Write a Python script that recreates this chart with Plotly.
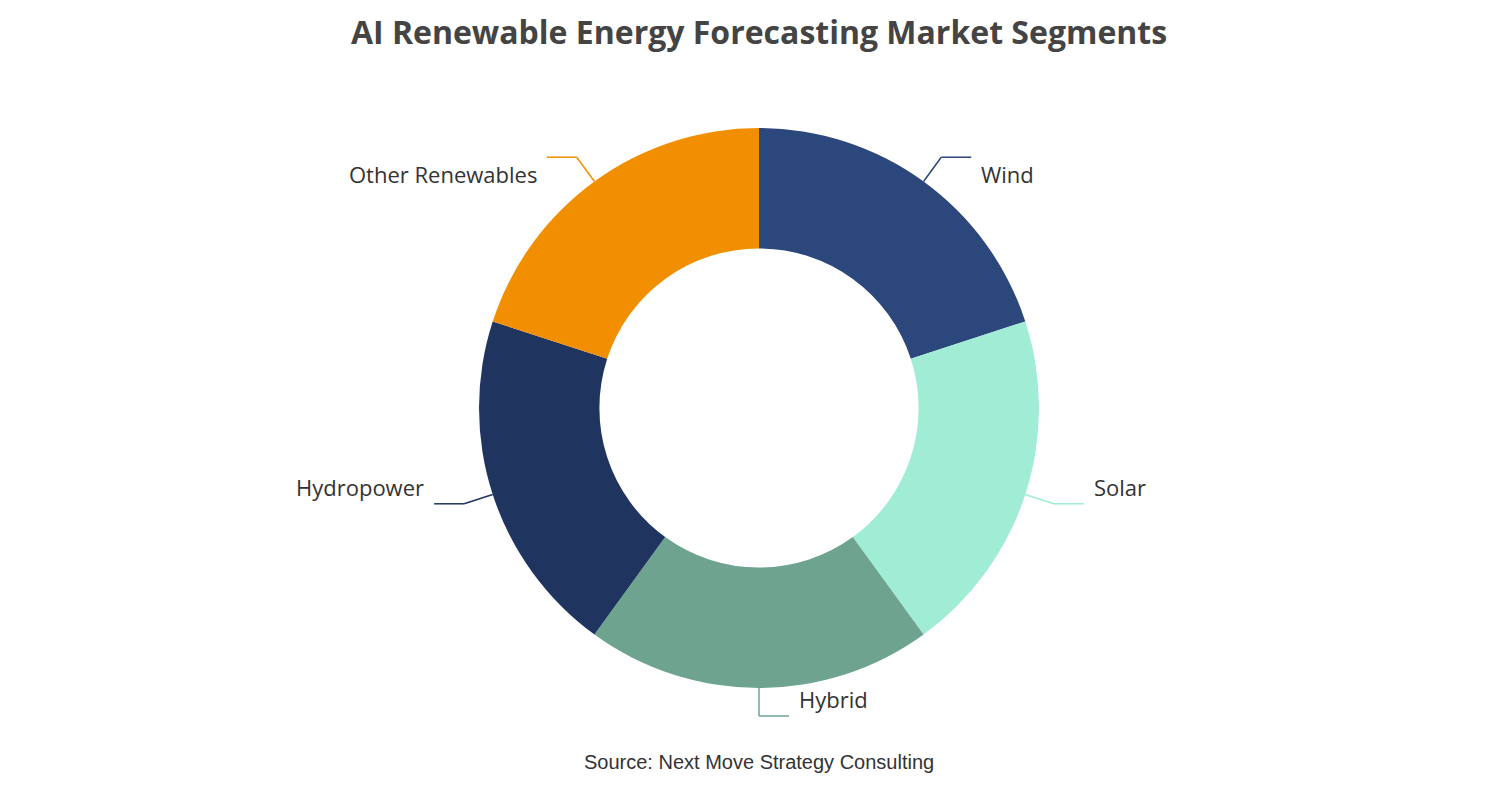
import math
import plotly.graph_objects as go

segments = ["Wind", "Solar", "Hybrid", "Hydropower", "Other Renewables"]
shares = [20, 20, 20, 20, 20]
colors = ["#2B477B", "#A0ECD4", "#6EA48F", "#1F3560", "#F28F00"]

W, H = 1502, 800
MT, MB = 120, 120
PH = H - MT - MB
CX, CY, R = W / 2, MT + PH / 2, PH / 2


def to_paper(x, y):
    return x / W, (H - MB - y) / PH


fig = go.Figure(go.Pie(
    labels=segments, values=shares, hole=0.57, sort=False,
    direction="clockwise", rotation=0, textinfo="none",
    marker=dict(colors=colors, line=dict(width=0)),
    showlegend=False, domain=dict(x=[0, 1], y=[0, 1]),
))

# leader lines + labels, placed from each slice's mid angle
total = sum(shares)
acc = 0
for name, v, c in zip(segments, shares, colors):
    mid = (acc + v / 2) / total * 2 * math.pi
    acc += v
    sx, sy = math.sin(mid), -math.cos(mid)
    x0, y0 = CX + R * sx, CY + R * sy
    x1, y1 = CX + (R + 30) * sx, CY + (R + 30) * sy
    side = 1 if sx >= 0 else -1
    if abs(sx) < 1e-6:
        y1 = CY + (R + 28) * sy
        x1 = x0
    x2 = x1 + side * 30
    for a, b in [((x0, y0), (x1, y1)), ((x1, y1), (x2, y1))]:
        pa, pb = to_paper(*a), to_paper(*b)
        fig.add_shape(type="line", xref="paper", yref="paper",
                      x0=pa[0], y0=pa[1], x1=pb[0], y1=pb[1],
                      line=dict(color=c, width=1.5))
    lx, ly = to_paper(x2 + side * 8, y1)
    fig.add_annotation(xref="paper", yref="paper", x=lx, y=ly, text=name,
                       showarrow=False, xanchor="left" if side > 0 else "right",
                       font=dict(size=22, color="#333333"))

fig.add_annotation(xref="paper", yref="paper", x=0.5, y=to_paper(0, 767)[1],
                   text="Source: Next Move Strategy Consulting", showarrow=False,
                   font=dict(family="Liberation Sans, Arial", size=20, color="#333333"))

fig.update_layout(
    width=W, height=H,
    margin=dict(l=0, r=0, t=MT, b=MB),
    paper_bgcolor="white", plot_bgcolor="white",
    font=dict(family="Open Sans, sans-serif"),
    title=dict(text="<b>AI Renewable Energy Forecasting Market Segments</b>",
               x=0.5, xanchor="center", y=1 - 25 / H, yanchor="middle",
               font=dict(size=32, color="#444444")),
)

fig.write_html("out.html")
